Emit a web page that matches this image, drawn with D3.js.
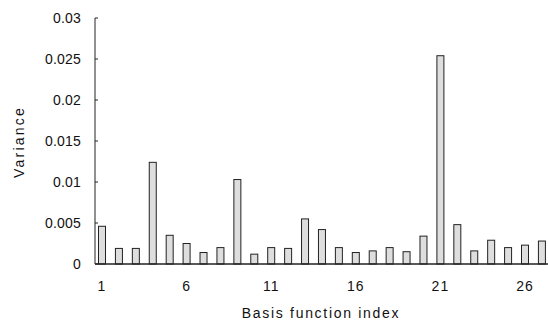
<!DOCTYPE html>
<html>
<head>
<meta charset="utf-8">
<script src="https://cdn.jsdelivr.net/npm/d3@7"></script>
<style>
  body { margin: 0; background: #fff; }
  text { font-family: "Liberation Sans", Arial, sans-serif; fill: #111; }
</style>
</head>
<body>
<svg width="548" height="327"></svg>
<script>
// basis function index and variance
const indices = d3.range(1, 28);
const variances = [0.0046, 0.0019, 0.0019, 0.0124, 0.0035, 0.0025, 0.0014, 0.0020, 0.0103,
                   0.0012, 0.0020, 0.0019, 0.0055, 0.0042, 0.0020, 0.0014, 0.0016, 0.0020,
                   0.0015, 0.0034, 0.0254, 0.0048, 0.0016, 0.0029, 0.0020, 0.0023, 0.0028];
const xTicks = [1, 6, 11, 16, 21, 26];
const yTicks = [0, 0.005, 0.01, 0.015, 0.02, 0.025, 0.03];

const svg = d3.select("svg");
const axisX = 95, x0 = 102, x26 = 525;

const x = d3.scaleLinear().domain([1, 26]).range([x0, x26]);
const y = d3.scaleLinear().domain([0, 0.03]).range([264, 18]);
const barW = 7;

// bars
svg.append("g").selectAll("rect")
    .data(indices)
    .enter().append("rect")
    .attr("x", d => x(d) - barW / 2)
    .attr("y", (d, i) => y(variances[i]))
    .attr("width", barW)
    .attr("height", (d, i) => y(0) - y(variances[i]))
    .attr("fill", "#dedede")
    .attr("stroke", "#222")
    .attr("stroke-width", 1);

// y axis: line + short inward ticks
const gy = svg.append("g").attr("transform", `translate(${axisX},0)`);
gy.append("line").attr("y1", y(0.03)).attr("y2", y(0)).attr("stroke", "#222");
gy.selectAll(".tk").data(yTicks).enter().append("line")
    .attr("x1", 0).attr("x2", 3)
    .attr("y1", d => y(d)).attr("y2", d => y(d))
    .attr("stroke", "#222");
gy.selectAll(".lb").data(yTicks).enter().append("text")
    .attr("x", -14).attr("y", d => y(d)).attr("dy", "0.35em")
    .attr("text-anchor", "end")
    .style("font-size", "14px")
    .style("letter-spacing", "0.2px")
    .text(d => d === 0 ? "0" : d3.format("")(+d.toFixed(3)));

// baseline
svg.append("line")
    .attr("x1", axisX).attr("x2", 548)
    .attr("y1", y(0)).attr("y2", y(0))
    .attr("stroke", "#222").attr("stroke-width", 1.5);

// x tick labels
svg.append("g").selectAll("text")
    .data(xTicks)
    .enter().append("text")
    .attr("x", d => x(d)).attr("y", 291)
    .attr("text-anchor", "middle")
    .style("font-size", "14px")
    .style("letter-spacing", "1px")
    .text(d => d);

// axis titles
svg.append("text")
    .attr("x", 321).attr("y", 318)
    .attr("text-anchor", "middle")
    .style("font-size", "14px")
    .style("letter-spacing", "1.7px")
    .text("Basis function index");

svg.append("text")
    .attr("transform", "translate(24,142) rotate(-90)")
    .attr("text-anchor", "middle")
    .style("font-size", "14px")
    .style("letter-spacing", "2.2px")
    .text("Variance");
</script>
</body>
</html>
